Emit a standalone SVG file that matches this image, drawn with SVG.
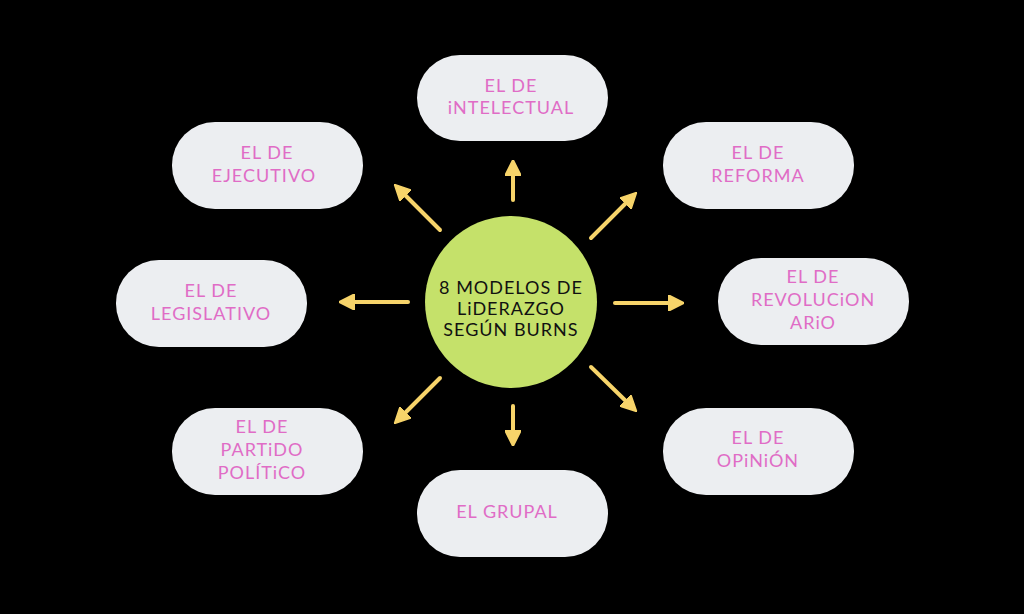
<svg xmlns="http://www.w3.org/2000/svg" width="1024" height="614" viewBox="0 0 1024 614">
<defs>
<style>
.node{fill:#eceef1}
.lbl{font-family:"Lato","Liberation Sans",sans-serif;font-size:18px;fill:#e06cc6;text-anchor:middle;letter-spacing:1px}
.ctr{font-family:"Lato","Liberation Sans",sans-serif;font-size:18px;fill:#111;text-anchor:middle;letter-spacing:1px}
.arr{stroke:#f7d46a;stroke-width:4;stroke-linecap:round;fill:none;marker-end:url(#ah)}
</style>
<marker id="ah" viewBox="0 0 10 10" refX="6" refY="5" markerWidth="4" markerHeight="4" orient="auto" markerUnits="strokeWidth">
<path d="M0,0 L10,5 L0,10 z" fill="#f7d46a" stroke="#f7d46a" stroke-linejoin="round"/>
</marker>
</defs>
<rect width="1024" height="614" fill="#000"/>
<g id="connectors">
<line class="arr" x1="513" y1="200" x2="513" y2="166"/>
<line class="arr" x1="513" y1="406" x2="513" y2="440"/>
<line class="arr" x1="408" y1="302" x2="345" y2="302"/>
<line class="arr" x1="615" y1="303" x2="678" y2="303"/>
<line class="arr" x1="440" y1="230" x2="399" y2="189"/>
<line class="arr" x1="591" y1="238" x2="632" y2="197"/>
<line class="arr" x1="440" y1="378" x2="399" y2="419"/>
<line class="arr" x1="591" y1="367" x2="632" y2="407"/>
</g>
<g id="center">
<circle cx="511" cy="302" r="86" fill="#c5e16a"/>
<text class="ctr" x="511" y="294">8 MODELOS DE</text>
<text class="ctr" x="511" y="315">LiDERAZGO</text>
<text class="ctr" x="511" y="336">SEGÚN BURNS</text>
</g>
<g id="n-intelectual">
<rect class="node" x="417" y="55" width="191" height="86" rx="43"/>
<text class="lbl" x="511" y="92">EL DE</text>
<text class="lbl" x="511" y="114">iNTELECTUAL</text>
</g>
<g id="n-ejecutivo">
<rect class="node" x="172" y="122" width="191" height="87" rx="43"/>
<text class="lbl" x="267" y="159">EL DE</text>
<text class="lbl" x="264" y="182">EJECUTIVO</text>
</g>
<g id="n-reforma">
<rect class="node" x="663" y="122" width="191" height="87" rx="43"/>
<text class="lbl" x="758" y="159">EL DE</text>
<text class="lbl" x="758" y="182">REFORMA</text>
</g>
<g id="n-legislativo">
<rect class="node" x="116" y="260" width="191" height="87" rx="43"/>
<text class="lbl" x="211" y="297">EL DE</text>
<text class="lbl" x="211" y="320">LEGISLATIVO</text>
</g>
<g id="n-revolucionario">
<rect class="node" x="718" y="258" width="191" height="87" rx="43"/>
<text class="lbl" x="813" y="283">EL DE</text>
<text class="lbl" x="813" y="306">REVOLUCiON</text>
<text class="lbl" x="813" y="329">ARiO</text>
</g>
<g id="n-partido">
<rect class="node" x="172" y="408" width="191" height="87" rx="43"/>
<text class="lbl" x="262" y="433">EL DE</text>
<text class="lbl" x="262" y="456">PARTiDO</text>
<text class="lbl" x="262" y="479">POLÍTiCO</text>
</g>
<g id="n-grupal">
<rect class="node" x="417" y="470" width="191" height="87" rx="43"/>
<text class="lbl" x="507" y="518">EL GRUPAL</text>
</g>
<g id="n-opinion">
<rect class="node" x="663" y="408" width="191" height="87" rx="43"/>
<text class="lbl" x="758" y="444">EL DE</text>
<text class="lbl" x="758" y="467">OPiNiÓN</text>
</g>
</svg>
